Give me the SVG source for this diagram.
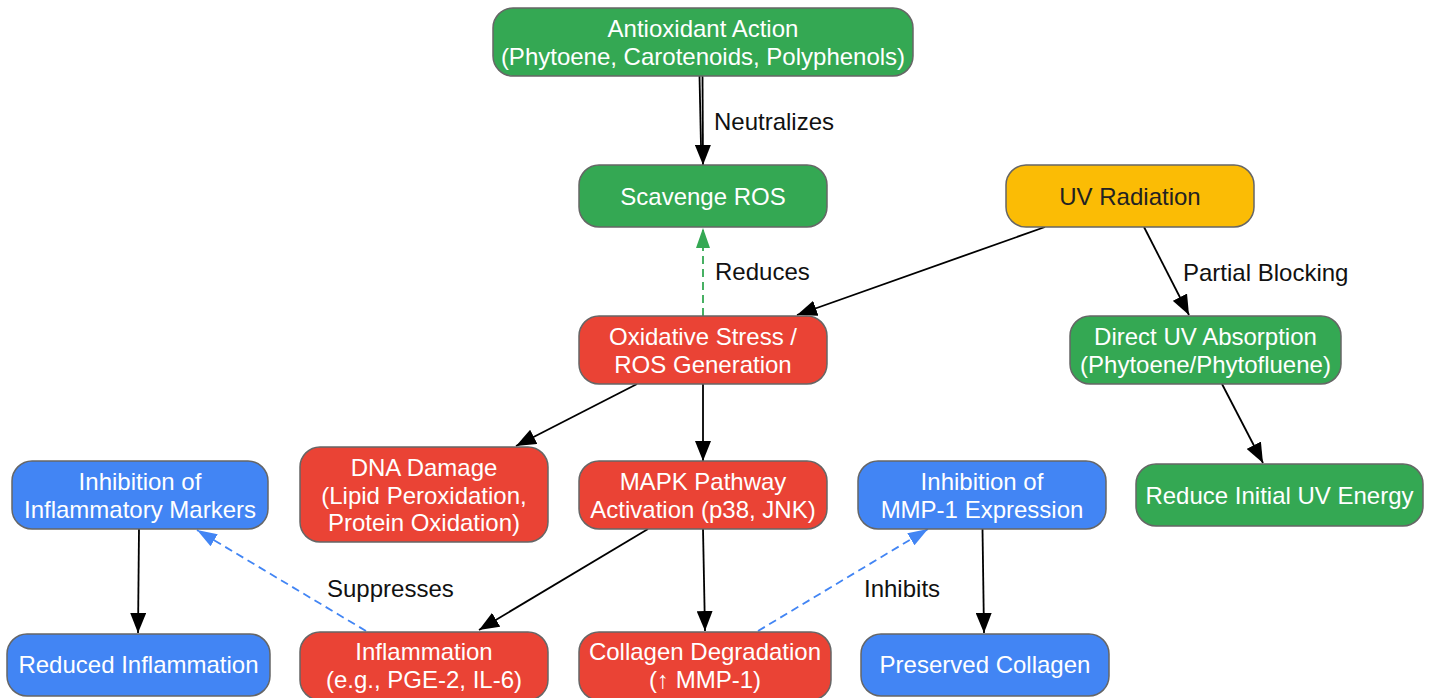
<svg xmlns="http://www.w3.org/2000/svg" width="1434" height="698" viewBox="0 0 1434 698">
<style>
  .node rect { stroke: #666666; stroke-width: 1.5; }
  .green rect { fill: #34A853; }
  .red rect { fill: #EA4335; }
  .blue rect { fill: #4285F4; }
  .yellow rect { fill: #FBBC05; }
  .node text { font-family: "Liberation Sans", Arial, sans-serif; font-size: 24px; fill: #ffffff; text-anchor: middle; }
  .yellow text { fill: #222222; }
  .edge { fill: none; stroke: #000000; stroke-width: 1.8; }
  .dash-green { fill: none; stroke: #34A853; stroke-width: 1.8; stroke-dasharray: 8 5; }
  .dash-blue { fill: none; stroke: #4285F4; stroke-width: 1.8; stroke-dasharray: 8 5; }
  .label { font-family: "Liberation Sans", Arial, sans-serif; font-size: 24px; fill: #111111; }
</style>
<defs>
  <marker id="arrowBlack" markerUnits="userSpaceOnUse" markerWidth="20" markerHeight="16" refX="20" refY="8" orient="auto">
    <path d="M0,0 L20,8 L0,16 z" fill="#000000"/>
  </marker>
  <marker id="arrowGreen" markerUnits="userSpaceOnUse" markerWidth="20" markerHeight="14" refX="20" refY="7" orient="auto">
    <path d="M0,0 L20,7 L0,14 z" fill="#34A853"/>
  </marker>
  <marker id="arrowBlue" markerUnits="userSpaceOnUse" markerWidth="20" markerHeight="14" refX="20" refY="7" orient="auto">
    <path d="M0,0 L20,7 L0,14 z" fill="#4285F4"/>
  </marker>
</defs>
<rect x="0" y="0" width="1434" height="698" fill="#ffffff"/>

<g id="connectors">
  <path class="edge" d="M699.5,76 L701,146"/>
  <path class="edge" d="M702.5,76 L703,165" marker-end="url(#arrowBlack)"/>
  <path class="dash-green" d="M703,316 L703,228" marker-end="url(#arrowGreen)"/>
  <path class="edge" d="M1045,227 L797,315" marker-end="url(#arrowBlack)"/>
  <path class="edge" d="M1144,227 L1189,315" marker-end="url(#arrowBlack)"/>
  <path class="edge" d="M1222,384 L1263,463" marker-end="url(#arrowBlack)"/>
  <path class="edge" d="M637,384 L516,446" marker-end="url(#arrowBlack)"/>
  <path class="edge" d="M703,384 L703,461" marker-end="url(#arrowBlack)"/>
  <path class="edge" d="M648,529 L479,630" marker-end="url(#arrowBlack)"/>
  <path class="edge" d="M703,529 L705,631" marker-end="url(#arrowBlack)"/>
  <path class="dash-blue" d="M366,631 L197,530" marker-end="url(#arrowBlue)"/>
  <path class="dash-blue" d="M758,631 L928,529" marker-end="url(#arrowBlue)"/>
  <path class="edge" d="M139,529 L138,633" marker-end="url(#arrowBlack)"/>
  <path class="edge" d="M982.5,529 L984,633" marker-end="url(#arrowBlack)"/>
  <text class="label" x="714" y="130">Neutralizes</text>
  <text class="label" x="715" y="280">Reduces</text>
  <text class="label" x="1183" y="281">Partial Blocking</text>
  <text class="label" x="327" y="597">Suppresses</text>
  <text class="label" x="864" y="597">Inhibits</text>
</g>

<g id="antioxidant" class="node green">
  <rect x="493" y="8" width="420" height="68" rx="20" ry="20"/>
  <text x="703" y="37">Antioxidant Action</text>
  <text x="703" y="65">(Phytoene, Carotenoids, Polyphenols)</text>
</g>
<g id="scavenge" class="node green">
  <rect x="579" y="165" width="248" height="62" rx="20" ry="20"/>
  <text x="703" y="204.5">Scavenge ROS</text>
</g>
<g id="uv" class="node yellow">
  <rect x="1006" y="165" width="248" height="62" rx="20" ry="20"/>
  <text x="1130" y="204.5">UV Radiation</text>
</g>
<g id="oxidative" class="node red">
  <rect x="579" y="316" width="248" height="68" rx="20" ry="20"/>
  <text x="703" y="345">Oxidative Stress /</text>
  <text x="703" y="373">ROS Generation</text>
</g>
<g id="direct" class="node green">
  <rect x="1070" y="316" width="271" height="68" rx="20" ry="20"/>
  <text x="1205.5" y="345">Direct UV Absorption</text>
  <text x="1205.5" y="373">(Phytoene/Phytofluene)</text>
</g>
<g id="reduceUV" class="node green">
  <rect x="1136" y="464" width="287" height="62" rx="20" ry="20"/>
  <text x="1279.5" y="503.5">Reduce Initial UV Energy</text>
</g>
<g id="inhInfl" class="node blue">
  <rect x="12" y="461" width="256" height="68" rx="20" ry="20"/>
  <text x="140" y="490">Inhibition of</text>
  <text x="140" y="518">Inflammatory Markers</text>
</g>
<g id="dna" class="node red">
  <rect x="300" y="447" width="248" height="95" rx="20" ry="20"/>
  <text x="424" y="476">DNA Damage</text>
  <text x="424" y="504">(Lipid Peroxidation,</text>
  <text x="424" y="531">Protein Oxidation)</text>
</g>
<g id="mapk" class="node red">
  <rect x="579" y="461" width="248" height="68" rx="20" ry="20"/>
  <text x="703" y="490">MAPK Pathway</text>
  <text x="703" y="518">Activation (p38, JNK)</text>
</g>
<g id="inhMMP" class="node blue">
  <rect x="858" y="461" width="248" height="68" rx="20" ry="20"/>
  <text x="982" y="490">Inhibition of</text>
  <text x="982" y="518">MMP-1 Expression</text>
</g>
<g id="redInfl" class="node blue">
  <rect x="7" y="634" width="263" height="62" rx="20" ry="20"/>
  <text x="138.5" y="673">Reduced Inflammation</text>
</g>
<g id="inflammation" class="node red">
  <rect x="300" y="632" width="248" height="68" rx="20" ry="20"/>
  <text x="424" y="660">Inflammation</text>
  <text x="424" y="688">(e.g., PGE-2, IL-6)</text>
</g>
<g id="collagen" class="node red">
  <rect x="579" y="632" width="252" height="68" rx="20" ry="20"/>
  <text x="705" y="660">Collagen Degradation</text>
  <text x="705" y="688">(↑ MMP-1)</text>
</g>
<g id="preserved" class="node blue">
  <rect x="861" y="634" width="248" height="62" rx="20" ry="20"/>
  <text x="985" y="673">Preserved Collagen</text>
</g>
</svg>
